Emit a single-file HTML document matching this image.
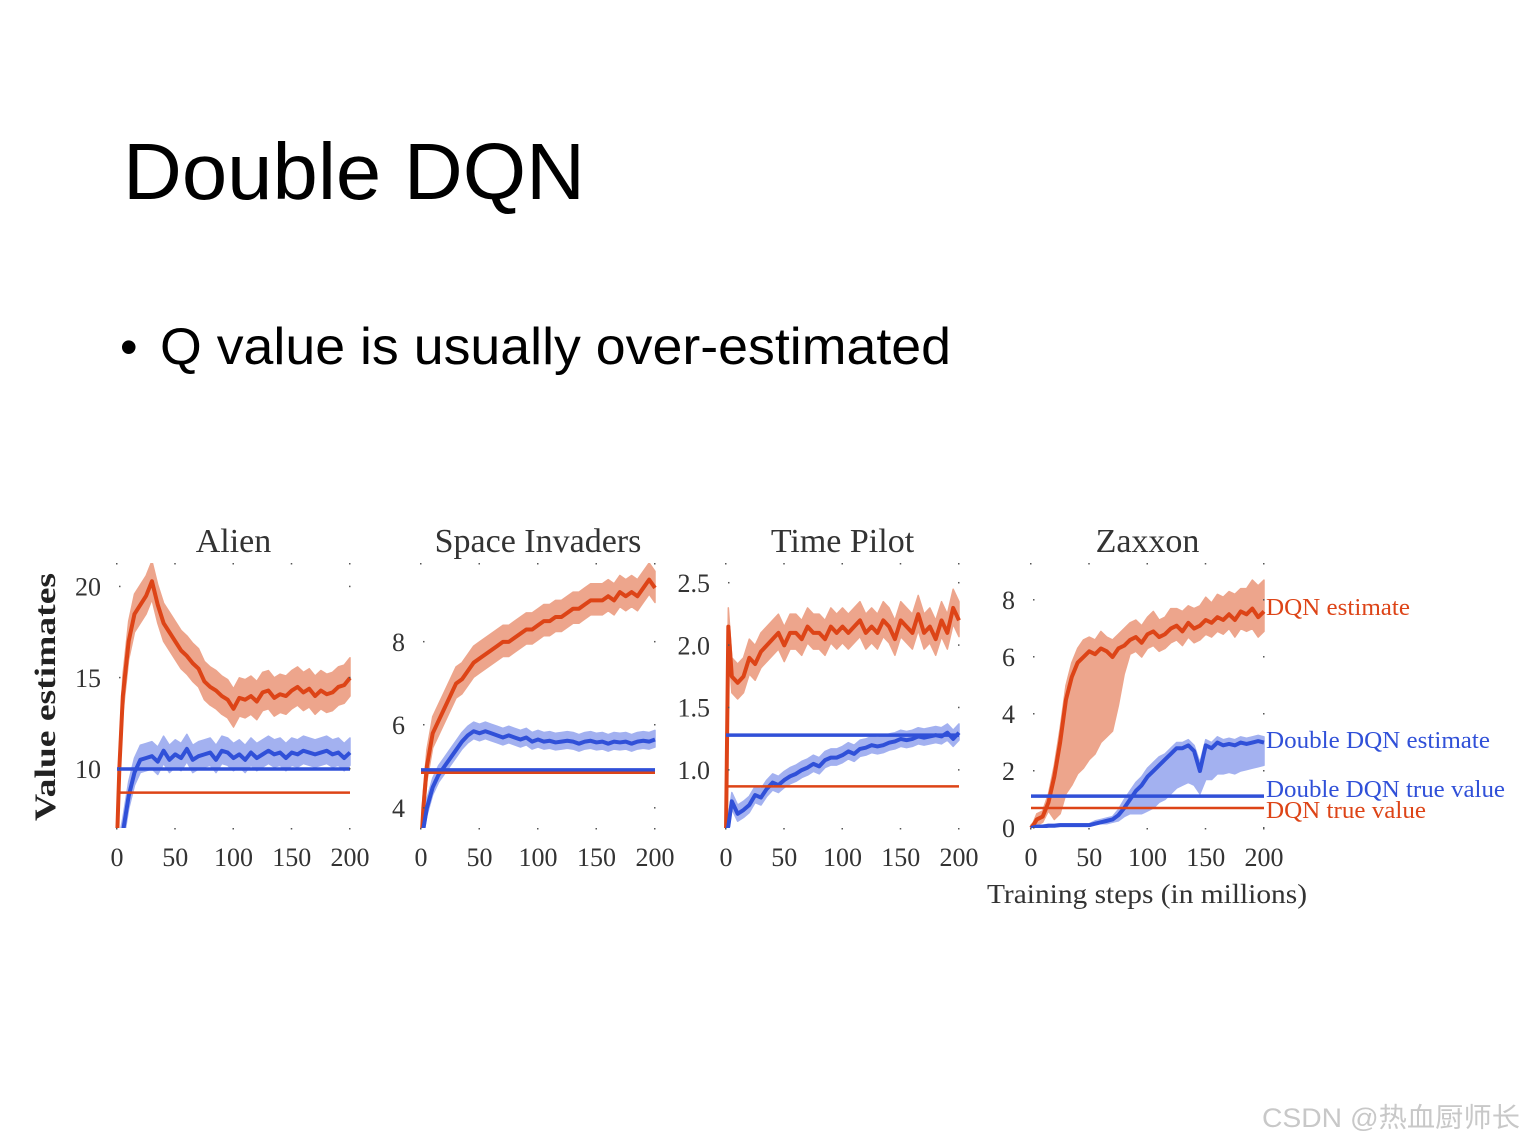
<!DOCTYPE html>
<html><head><meta charset="utf-8"><style>
html,body{margin:0;padding:0;background:#fff;}
svg{display:block;}
.ser{font-family:"Liberation Serif",serif;}
</style></head><body>
<svg id="root" width="1526" height="1144" viewBox="0 0 1526 1144" xmlns="http://www.w3.org/2000/svg">
<text x="123" y="199" font-family="Liberation Sans, sans-serif" font-size="80" textLength="462" lengthAdjust="spacingAndGlyphs" fill="#000">Double DQN</text>
<text x="120" y="364" font-family="Liberation Sans, sans-serif" font-size="50" fill="#000">•</text>
<text x="160" y="364" font-family="Liberation Sans, sans-serif" font-size="52" textLength="791" lengthAdjust="spacingAndGlyphs" fill="#000">Q value is usually over-estimated</text>
<text class="ser" transform="translate(55,697) rotate(-90)" text-anchor="middle" font-size="30" font-weight="bold" textLength="248" lengthAdjust="spacingAndGlyphs" fill="#222">Value estimates</text>
<text class="ser" x="1147" y="903" text-anchor="middle" font-size="27" textLength="320" lengthAdjust="spacingAndGlyphs" fill="#333">Training steps (in millions)</text>
<text class="ser" x="1266" y="615" font-size="24" textLength="144" lengthAdjust="spacingAndGlyphs" fill="#dd4417">DQN estimate</text>
<text class="ser" x="1266" y="748" font-size="24" textLength="224" lengthAdjust="spacingAndGlyphs" fill="#3050d8">Double DQN estimate</text>
<text class="ser" x="1266" y="797" font-size="24" textLength="239" lengthAdjust="spacingAndGlyphs" fill="#3050d8">Double DQN true value</text>
<text class="ser" x="1266" y="818" font-size="24" textLength="160" lengthAdjust="spacingAndGlyphs" fill="#dd4417">DQN true value</text>
<text x="1262" y="1127" font-family="Liberation Sans, 'Noto Sans CJK SC', sans-serif" font-size="27" textLength="258" lengthAdjust="spacingAndGlyphs" fill="#c8c8c8">CSDN @热血厨师长</text>
<g id="charts"></g>
</svg>
<script>
const steps = [0,2,5,10,15,20,25,30,35,40,45,50,55,60,65,70,75,80,85,90,95,100,105,110,115,120,125,130,135,140,145,150,155,160,165,170,175,180,185,190,195,200];
const xTicks = [0,50,100,150,200];

const alienDqn = [6,10,14,17,18.5,19,19.5,20.3,19,18,17.5,17,16.5,16.2,15.8,15.5,14.8,14.5,14.3,14,13.8,13.3,13.9,13.8,14.0,13.7,14.2,14.3,13.9,14.1,14.0,14.3,14.5,14.2,14.4,14.0,14.3,14.1,14.2,14.5,14.6,15.0];
const alienDouble = [5,5.5,6.5,8.5,9.8,10.5,10.6,10.7,10.4,11.0,10.5,10.8,10.6,11.1,10.5,10.7,10.8,10.9,10.5,11.0,10.9,10.6,10.8,10.5,10.9,10.6,10.8,11.0,10.8,10.9,10.6,10.9,10.8,11.0,10.9,10.8,10.9,11.0,10.8,10.9,10.6,10.9];
const alienTrue = [8.7, 10.0];
const alienTicks = [10,15,20];

const siDqn = [3,4,5,5.8,6.1,6.4,6.7,7.0,7.1,7.3,7.5,7.6,7.7,7.8,7.9,8.0,8.0,8.1,8.2,8.3,8.3,8.4,8.5,8.5,8.6,8.6,8.7,8.8,8.8,8.9,9.0,9.0,9.0,9.1,9.0,9.2,9.1,9.2,9.1,9.3,9.5,9.3];
const siDouble = [3,3.5,4,4.5,4.8,5.0,5.2,5.4,5.6,5.75,5.85,5.8,5.85,5.8,5.75,5.7,5.75,5.7,5.65,5.7,5.6,5.65,5.6,5.62,5.58,5.6,5.62,5.6,5.55,5.6,5.62,5.58,5.6,5.55,5.6,5.58,5.6,5.55,5.6,5.62,5.6,5.65];
const siTrue = [4.85, 4.92];
const siTicks = [4,6,8];

const tpDqn = [0.5,2.15,1.75,1.7,1.75,1.9,1.85,1.95,2.0,2.05,2.1,2.0,2.1,2.1,2.05,2.15,2.1,2.1,2.05,2.15,2.1,2.15,2.1,2.15,2.2,2.1,2.15,2.1,2.2,2.15,2.05,2.2,2.15,2.1,2.25,2.1,2.15,2.05,2.2,2.1,2.3,2.2];
const tpDouble = [0.5,0.55,0.75,0.65,0.68,0.72,0.8,0.78,0.85,0.9,0.88,0.92,0.95,0.97,1.0,1.02,1.05,1.03,1.08,1.1,1.1,1.12,1.15,1.13,1.17,1.18,1.2,1.19,1.2,1.22,1.23,1.25,1.24,1.25,1.27,1.26,1.27,1.28,1.27,1.3,1.25,1.3];
const tpTrue = [0.87, 1.28];
const tpTicks = [1.0,1.5,2.0,2.5];
const tpTickLabels = ["1.0","1.5","2.0","2.5"];

const zaxDqn = [0,0.1,0.3,0.4,0.9,1.8,3.0,4.5,5.3,5.8,6.0,6.2,6.1,6.3,6.2,6.0,6.3,6.4,6.6,6.7,6.5,6.8,6.9,6.7,6.8,7.0,7.1,6.9,7.2,7.0,7.1,7.3,7.2,7.4,7.3,7.5,7.3,7.6,7.5,7.7,7.4,7.6];
const zaxDqnLo = [0,0.1,0.2,0.2,0.3,1.5,2.5,3.3,3.8,3.9,3.9,3.8,3.5,3.3,3.0,2.6,2.0,1.0,0.5,0.5,0.5,0.5,0.5,0.5,0.5,0.5,0.5,0.5,0.5,0.5,0.5,0.5,0.5,0.5,0.5,0.5,0.6,0.6,0.6,0.7,0.7,0.7];
const zaxDqnHi = [0.1,0.1,0.2,0.2,0.3,0.4,0.5,0.5,0.5,0.5,0.6,0.5,0.5,0.6,0.5,0.6,0.5,0.6,0.6,0.6,0.6,0.6,0.7,0.6,0.6,0.7,0.6,0.7,0.6,0.7,0.7,0.8,0.7,0.8,0.8,0.8,0.9,0.8,0.9,1.0,1.1,1.1];
const zaxDouble = [0,0.02,0.05,0.05,0.08,0.08,0.1,0.1,0.1,0.1,0.1,0.1,0.15,0.2,0.25,0.3,0.45,0.7,1.0,1.3,1.5,1.8,2.0,2.2,2.4,2.6,2.8,2.8,2.9,2.7,2.0,2.9,2.8,3.0,2.9,2.95,2.9,3.0,2.95,3.0,3.05,3.0];
const zaxDoubleLo = [0,0,0,0,0,0,0,0,0,0,0,0,0,0.05,0.1,0.1,0.2,0.3,0.5,0.8,1.0,1.2,1.3,1.3,1.4,1.4,1.4,1.3,1.3,1.2,0.8,1.2,1.1,1.1,1.0,1.0,1.0,1.0,0.9,0.9,0.9,0.8];
const zaxDoubleHi = [0.05,0.05,0.05,0.05,0.05,0.05,0.05,0.05,0.05,0.05,0.05,0.05,0.1,0.1,0.1,0.1,0.2,0.3,0.3,0.3,0.3,0.3,0.3,0.3,0.2,0.2,0.2,0.2,0.2,0.2,0.3,0.2,0.2,0.2,0.2,0.2,0.2,0.2,0.2,0.2,0.2,0.2];
const zaxTrue = [0.7, 1.12];
const zaxTicks = [0,2,4,6,8];

const NS = "http://www.w3.org/2000/svg";
const RED = "#dd4417", RED_BAND = "#eda58c", BLUE = "#3050d8", BLUE_BAND = "#a3b1f0";

function mk(tag, attrs, parent) {
  const e = document.createElementNS(NS, tag);
  for (const k in attrs) e.setAttribute(k, attrs[k]);
  parent.appendChild(e);
  return e;
}
function constArr(v) { return steps.map(() => v); }

function panel(gid, title, x0, x1, yTop, yBot, vMin, vMax, ticks, tickLabels, dqn, dLo, dHi, dbl, bLo, bHi, trueVals) {
  const root = document.getElementById("charts");
  const g = mk("g", {}, root);
  
  
  const xs = v => x0 + (x1 - x0) * v / 200;
  const ys = v => yBot - (yBot - yTop) * (v - vMin) / (vMax - vMin);
  const clip = mk("clipPath", {id: gid + "-clip"}, g);
  mk("rect", {x: x0 - 2, y: yTop, width: x1 - x0 + 4, height: yBot - yTop}, clip);
  const body = mk("g", {"clip-path": "url(#" + gid + "-clip)"}, g);

  const t = mk("text", {x: (x0 + x1) / 2, y: 552, "text-anchor": "middle", "font-size": "34", fill: "#333", class: "ser"}, g);
  t.textContent = title;
  
  

  xTicks.forEach(v => {
    mk("rect", {x: xs(v) - 1, y: yTop, width: 1.5, height: 1.5, fill: "#555"}, g);
    mk("rect", {x: xs(v) - 1, y: yBot, width: 1.5, height: 1.5, fill: "#555"}, g);
    const lbl = mk("text", {x: xs(v), y: 866, "text-anchor": "middle", "font-size": "26", fill: "#333", class: "ser"}, g);
    lbl.textContent = String(v);
    
    
  });
  ticks.forEach((v, i) => {
    mk("rect", {x: x0 + 2, y: ys(v) - 1, width: 1.5, height: 1.5, fill: "#555"}, g);
    mk("rect", {x: x1 - 1, y: ys(v) - 1, width: 1.5, height: 1.5, fill: "#555"}, g);
    const lbl = mk("text", {x: x0 - 16, y: ys(v) + 9, "text-anchor": "end", "font-size": "26", fill: "#333", class: "ser"}, g);
    lbl.textContent = tickLabels ? tickLabels[i] : String(v);
    
    
  });

  function band(mean, lo, hi, color, name) {
    let up = steps.map((s, i) => xs(s) + "," + ys(mean[i] + hi[i]));
    let dn = steps.map((s, i) => xs(s) + "," + ys(mean[i] - lo[i])).reverse();
    const p = mk("polygon", {points: up.concat(dn).join(" "), fill: color, stroke: color, "stroke-width": 1.5, "stroke-linejoin": "round"}, body);
    
    
  }
  function line(mean, color, name) {
    const p = mk("polyline", {points: steps.map((s, i) => xs(s) + "," + ys(mean[i])).join(" "), fill: "none", stroke: color, "stroke-width": 4, "stroke-linejoin": "round"}, body);
    
    
  }
  band(dqn, dLo, dHi, RED_BAND, gid + '-dqn-band');
  band(dbl, bLo, bHi, BLUE_BAND, gid + '-double-band');
  line(dqn, RED, gid + '-dqn-estimate');
  line(dbl, BLUE, gid + '-double-estimate');
  const l1 = mk("line", {x1: xs(0), x2: xs(200), y1: ys(trueVals[1]), y2: ys(trueVals[1]), stroke: BLUE, "stroke-width": 3.5}, body);
  
  
  const l2 = mk("line", {x1: xs(0), x2: xs(200), y1: ys(trueVals[0]), y2: ys(trueVals[0]), stroke: RED, "stroke-width": 2.5}, body);
  
  
}

panel("alien", "Alien", 117, 350, 563, 828, 6.76, 21.3, alienTicks, null,
  alienDqn, constArr(1.0), constArr(1.1), alienDouble, constArr(0.7), constArr(0.8), alienTrue);
panel("space-invaders", "Space Invaders", 421, 655, 563, 828, 3.52, 9.9, siTicks, null,
  siDqn, constArr(0.35), constArr(0.4), siDouble, constArr(0.18), constArr(0.22), siTrue);
panel("time-pilot", "Time Pilot", 726, 959, 563, 828, 0.536, 2.66, tpTicks, tpTickLabels,
  tpDqn, constArr(0.13), constArr(0.15), tpDouble, constArr(0.06), constArr(0.07), tpTrue);
panel("zaxxon", "Zaxxon", 1031, 1264, 563, 828, 0, 9.3, zaxTicks, null,
  zaxDqn, zaxDqnLo, zaxDqnHi, zaxDouble, zaxDoubleLo, zaxDoubleHi, zaxTrue);
</script>
</body></html>
